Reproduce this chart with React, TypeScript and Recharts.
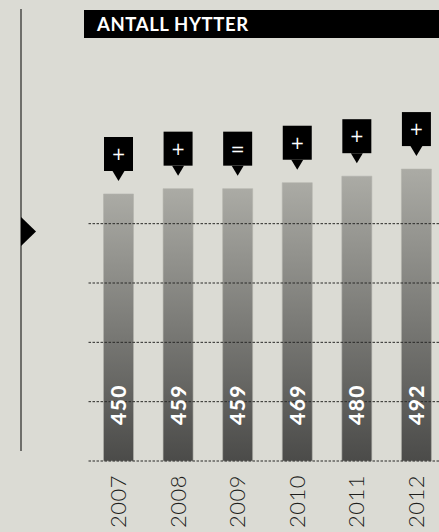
import React from 'react';
import { BarChart, Bar, XAxis, YAxis, ReferenceLine, LabelList } from 'recharts';

const years = ['2007', '2008', '2009', '2010', '2011', '2012'];
const cabins = [450, 459, 459, 469, 480, 492];
const changes = ['+', '+', '=', '+', '+', '+'];
const gridValues = [0, 100, 200, 300, 400];

const data = years.map((year, i) => ({ year, cabins: cabins[i], change: changes[i] }));

const BG = '#dbdbd4';

// rotated year under each bar
const YearTick = ({ x, payload }: any) => (
  <text
    transform={`translate(${x},475) rotate(-90)`}
    textAnchor="end"
    dy="0.35em"
    fontFamily="Lato, sans-serif"
    fontWeight={300}
    fontSize={22}
    letterSpacing={0.5}
    fill="#1e1e1c"
  >
    {payload.value}
  </text>
);

// white number inside the bar, near the bottom
const ValueLabel = ({ x, y, width, height, value }: any) => {
  const cx = x + width / 2;
  const cy = y + height - 56.5;
  return (
    <text
      transform={`translate(${cx},${cy}) rotate(-90)`}
      textAnchor="middle"
      dy="0.36em"
      fontFamily="Lato, sans-serif"
      fontWeight={900}
      fontSize={21}
      letterSpacing={1.5}
      fill="#ffffff"
    >
      {value}
    </text>
  );
};

// black marker with the change sign above each bar
const Pin = ({ x, y, width, value }: any) => {
  const cx = x + width / 2;
  const tip = y - 13;
  const bottom = tip - 10;
  const top = bottom - 34;
  return (
    <g>
      <rect x={cx - 14.5} y={top} width={29} height={34} fill="#000" />
      <polygon points={`${cx - 6},${bottom} ${cx + 6},${bottom} ${cx},${tip}`} fill="#000" />
      <text
        x={cx}
        y={top + 17}
        dy="0.35em"
        textAnchor="middle"
        fontFamily="DejaVu Sans, sans-serif"
        fontWeight={400}
        fontSize={17}
        fill="#ffffff"
        style={{ WebkitFontSmoothing: 'antialiased' }}
      >
        {value}
      </text>
    </g>
  );
};

export default function App() {
  return (
    <div style={{ position: 'relative', width: 439, height: 532, overflow: 'hidden', background: BG }}>
      <style>{`body{margin:0;background:${BG}}`}</style>

      {/* left rule and pointer */}
      <div style={{ position: 'absolute', left: 20, top: 9, width: 2, height: 442, background: '#6e6e6a' }} />
      <svg style={{ position: 'absolute', left: 21, top: 217 }} width={16} height={30}>
        <polygon points="0,0 15,14.5 0,29" fill="#000" />
      </svg>

      {/* title bar */}
      <div
        style={{
          position: 'absolute',
          left: 84,
          top: 10,
          width: 355,
          height: 28,
          background: '#000',
          color: '#fff',
          fontFamily: 'Lato, sans-serif',
          fontWeight: 700,
          fontSize: 18.5,
          lineHeight: '28px',
          paddingLeft: 13,
          boxSizing: 'border-box',
          letterSpacing: 0.6,
        }}
      >
        ANTALL HYTTER
      </div>

      <div style={{ position: 'absolute', left: 0, top: 0 }}>
        <BarChart width={446} height={532} data={data} margin={{ top: 105, right: 0, bottom: 0, left: 88.5 }}>
          <defs>
            <linearGradient id="barFill" x1="0" y1="0" x2="0" y2="1">
              <stop offset="0%" stopColor="#ababa5" />
              <stop offset="100%" stopColor="#4b4b49" />
            </linearGradient>
          </defs>
          <XAxis
            dataKey="year"
            height={71}
            axisLine={false}
            tickLine={false}
            tickSize={0}
            tickMargin={0}
            interval={0}
            tick={<YearTick />}
          />
          <YAxis hide width={0} domain={[0, 600]} />
          <Bar dataKey="cabins" barSize={30} fill="url(#barFill)" stroke="#b3b3ac" strokeWidth={0.6} isAnimationActive={false}>
            <LabelList dataKey="cabins" content={<ValueLabel />} />
            <LabelList dataKey="change" content={<Pin />} />
          </Bar>
          {gridValues.map((v) => (
            <ReferenceLine key={v} y={v} stroke="#2a2a28" strokeWidth={1} strokeDasharray="2.5 1.5" />
          ))}
        </BarChart>
      </div>
    </div>
  );
}
